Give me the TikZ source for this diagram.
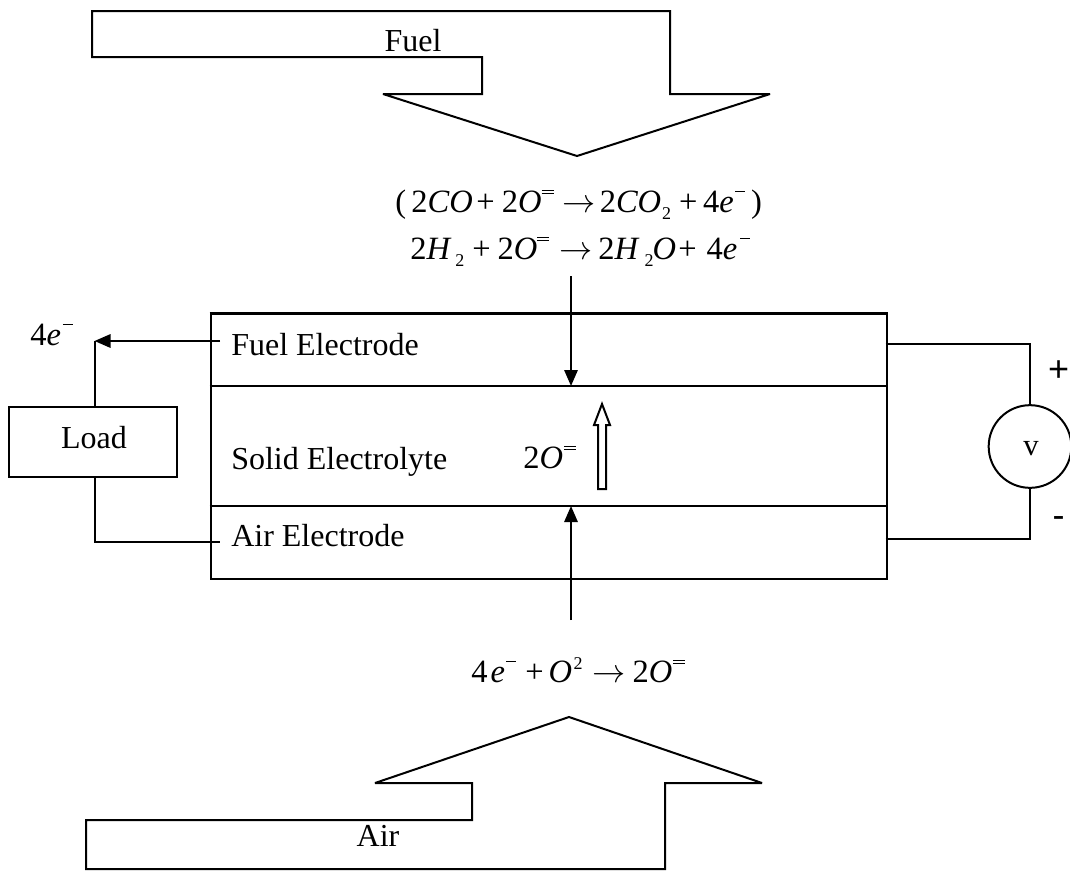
\documentclass[tikz,border=0pt]{standalone}
\usepackage{fontspec}
\setmainfont{Liberation Serif}
\newfontfamily\armfont{Liberation Sans}
\usetikzlibrary{arrows.meta}
\newdimen\pxu \pxu=0.75pt
\newcommand{\txtsize}{\fontsize{24}{27}\selectfont}
\newcommand{\eqsize}{\fontsize{24.4}{27}\selectfont}
\newcommand{\K}[1]{\kern#1\pxu}
\newcommand{\iv}[1]{\textit{#1}}
\newcommand{\upx}[1]{\raisebox{9.5pt}{\fontsize{13.5}{14}\selectfont #1}}
\newcommand{\dnx}[1]{\raisebox{-5.25pt}{\fontsize{13.5}{14}\selectfont #1}}
\newcommand{\sgl}{\rule[15pt]{7.5pt}{0.7pt}}
\newcommand{\dbl}{\rlap{\rule[13.5pt]{9pt}{0.7pt}}\rule[16pt]{9pt}{0.7pt}}
\newcommand{\ar}{$\rightarrow$}
\tikzset{
  wire/.style={draw=black,line width=1.5pt},
  thinwire/.style={draw=black,line width=1.2pt},
  blockarrow/.style={wire,line join=miter,miter limit=3},
  label/.style={inner sep=0pt,font=\txtsize,text=black},
  eqn/.style={inner sep=0pt,font=\eqsize,text=black,anchor=base west},
  headed/.style={draw=black,line width=1.5pt,-{Triangle[length=12pt,width=10pt]}},
}
\begin{document}
\begin{tikzpicture}[x=0.75pt,y=-0.75pt]
\useasboundingbox (0,0) rectangle (1070,871);
% block arrows
\draw[blockarrow] (92,11) -- (670,11) -- (670,94) -- (770,94) -- (577,156) -- (383,94) -- (482,94) -- (482,57) -- (92,57) -- cycle;
\draw[blockarrow] (86,820) -- (472,820) -- (472,783) -- (375,783) -- (569,717) -- (762,783) -- (665,783) -- (665,869) -- (86,869) -- cycle;
\node[label,anchor=base] (fuel) at (413,51.5) {Fuel};
\node[label,anchor=base] (air) at (378,846) {Air};
% cell
\node[wire,minimum width=507pt,minimum height=198.75pt,inner sep=0pt,anchor=north west] (cell) at (209.7,313) {};
\draw[line width=2pt] (cell.north west) -- (cell.north east);
\coordinate (l1w) at (209.7,386); \coordinate (l1e) at (885.7,386);
\coordinate (l2w) at (209.7,506); \coordinate (l2e) at (885.7,506);
\draw[thinwire] (l1w) -- (l1e);
\draw[wire] (l2w) -- (l2e);
\node[label,anchor=base west] (fe) at (231,355) {Fuel Electrode};
\node[label,anchor=base west] (se) at (231,469) {Solid Electrolyte};
\node[label,anchor=base west] (ae) at (231,546) {Air Electrode};
% load
\node[wire,minimum width=126pt,minimum height=52.5pt,inner sep=0pt] (load) at (93,442) {};
\node[label,anchor=base] (loadt) at (94,448) {Load};
\coordinate (c1) at (94.5,341); \coordinate (c2) at (94.5,542);
\coordinate (fs) at (220,341); \coordinate (as) at (220,542);
\draw[wire] (load.north -| c1) -- (c1);
\draw[headed] (fs) -- (c1);
\draw[wire] (load.south -| c2) -- (c2) -- (as);
\node[eqn] (fourE) at (30,345) {4\iv{e}\K{2}\sgl};
% voltmeter
\node[draw=black,line width=1.5pt,circle,minimum size=62pt,inner sep=0pt] (volt) at (1030,446.5) {};
\node[label,anchor=base,font=\fontsize{23}{26}\selectfont] (vt) at (1031,455) {v};
\coordinate (r1) at (885.7,344); \coordinate (r2) at (1030,344);
\coordinate (r3) at (885.7,539); \coordinate (r4) at (1030,539);
\draw[wire] (r1) -- (r2) -- (volt.north);
\draw[wire] (r3) -- (r4) -- (volt.south);
\node[label,font=\armfont\fontsize{27}{30}\selectfont] (plus) at (1058.5,371) {+};
\node[label,font=\armfont\fontsize{27}{30}\selectfont] (minus) at (1058.5,522) {-};
% equations
\node[eqn] (eq1) at (395,212) {(\K{5.2}2\iv{CO}\K{3.5}+\K{7.2}2\iv{O}\dbl\K{8.5}\ar\K{4.5}2\iv{CO}\K{1}\dnx{2}\K{8}+\K{5.5}4\iv{e}\K{1.4}\sgl\K{6})};
\node[eqn] (eq2) at (410,259) {2\iv{H}\K{4}\dnx{2}\K{8}+\K{6.7}2\iv{O}\dbl\K{10}\ar\K{6}2\iv{H}\K{4.8}\dnx{2}\K{-1}\iv{O}\K{2.5}+\K{9.7}4\iv{e}\K{3}\sgl};
\node[eqn] (eq3) at (471,682) {4\K{3}\iv{e}\K{1.5}\sgl\K{9}+\K{4.7}\iv{O}\K{1.5}\upx{2}\K{9.5}\ar\K{7.5}2\iv{O}\K{1}\dbl};
\node[eqn] (eq4) at (523,468) {2\iv{O}\K{1}\dbl};
% flow arrows
\coordinate (dtop) at (571,276); \coordinate (dbot) at (571,386);
\coordinate (utop) at (571,506); \coordinate (ubot) at (571,620);
\draw[headed] (dtop) -- (dbot);
\draw[headed] (ubot) -- (utop);
\draw[wire,line join=miter] (598,489) -- (606,489) -- (606,425) -- (610,425) -- (602,404) -- (594,425) -- (598,425) -- cycle;
\end{tikzpicture}
\end{document}
